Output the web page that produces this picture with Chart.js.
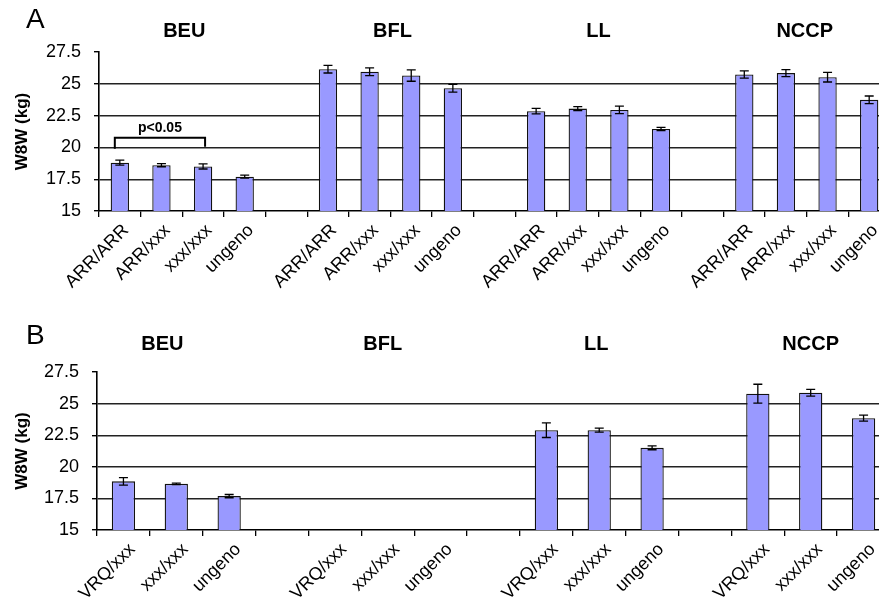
<!DOCTYPE html>
<html><head><meta charset="utf-8">
<script src="https://cdn.jsdelivr.net/npm/chart.js@4.4.0/dist/chart.umd.min.js"></script>
<style>
html,body{margin:0;padding:0;background:#fff;overflow:hidden;width:879px;height:609px;}
#wrapA{position:absolute;left:0;top:0;width:890px;height:305px;}
#wrapB{position:absolute;left:0;top:318px;width:890px;height:291px;}
</style></head><body>
<div id="wrapA"><canvas id="cA"></canvas></div>
<div id="wrapB"><canvas id="cB"></canvas></div>
<script>
// ---- data ----
const groups = ['BEU', 'BFL', 'LL', 'NCCP'];
const genotypesA = ['ARR/ARR', 'ARR/xxx', 'xxx/xxx', 'ungeno'];
const genotypesB = ['VRQ/xxx', 'xxx/xxx', 'ungeno'];

const meanA_BEU  = [18.8, 18.6, 18.5, 17.7];
const errA_BEU   = [0.2, 0.12, 0.2, 0.12];
const meanA_BFL  = [26.15, 25.95, 25.65, 24.65];
const errA_BFL   = [0.3, 0.3, 0.45, 0.3];
const meanA_LL   = [22.85, 23.05, 22.95, 21.45];
const errA_LL    = [0.22, 0.15, 0.3, 0.12];
const meanA_NCCP = [25.73, 25.84, 25.52, 23.74];
const errA_NCCP  = [0.28, 0.28, 0.38, 0.3];

const meanB_BEU  = [18.85, 18.65, 17.68];
const errB_BEU   = [0.3, 0.06, 0.13];
const meanB_BFL  = [null, null, null];
const errB_BFL   = [null, null, null];
const meanB_LL   = [22.9, 22.9, 21.5];
const errB_LL    = [0.58, 0.16, 0.15];
const meanB_NCCP = [25.78, 25.86, 23.85];
const errB_NCCP  = [0.75, 0.27, 0.24];

const yTicks = [15, 17.5, 20, 22.5, 25, 27.5];
const yTitle = 'W8W (kg)';
const bracketText = 'p<0.05';
const bracketFrom = 0, bracketTo = 2, bracketValue = 20.75, bracketLeftEnd = 19.9, bracketRightEnd = 20.05;

// ---- build ----
function build(genos, means, errs) {
  const labels = [], data = [], err = [], groupIdx = [];
  means.forEach((m, g) => {
    const start = labels.length;
    genos.forEach((c, i) => { labels.push(c); data.push(m[i]); err.push(errs[g][i]); });
    groupIdx.push([start, labels.length - 1]);
    if (g < means.length - 1) { labels.push(''); data.push(null); err.push(null); }
  });
  return {labels, data, err, groupIdx};
}
const A = build(genotypesA, [meanA_BEU, meanA_BFL, meanA_LL, meanA_NCCP], [errA_BEU, errA_BFL, errA_LL, errA_NCCP]);
const B = build(genotypesB, [meanB_BEU, meanB_BFL, meanB_LL, meanB_NCCP], [errB_BEU, errB_BFL, errB_LL, errB_NCCP]);

const FONT = '"Liberation Sans", Arial, sans-serif';

function makePlugin(P, letter, letterY, groupY, groupShift, bracket) {
  return {
    id: 'deco' + letter,
    afterDatasetsDraw(chart) {
      const ctx = chart.ctx, xs = chart.scales.x, ys = chart.scales.y;
      ctx.save();
      // error bars
      ctx.strokeStyle = '#000'; ctx.lineWidth = 1.3;
      P.data.forEach((m, i) => {
        if (m == null || P.err[i] == null) return;
        const x = xs.getPixelForValue(i);
        const yt = ys.getPixelForValue(m + P.err[i]);
        const yb = ys.getPixelForValue(m - P.err[i]);
        ctx.beginPath();
        ctx.moveTo(x, yt); ctx.lineTo(x, yb);
        ctx.moveTo(x - 4.5, yt); ctx.lineTo(x + 4.5, yt);
        ctx.moveTo(x - 4.5, yb); ctx.lineTo(x + 4.5, yb);
        ctx.stroke();
      });
      if (bracket) {
        const x1 = xs.getPixelForValue(bracketFrom) - 5;
        const x2 = xs.getPixelForValue(bracketTo) + 2;
        const yy = ys.getPixelForValue(bracketValue);
        ctx.lineWidth = 2;
        ctx.beginPath();
        ctx.moveTo(x1, ys.getPixelForValue(bracketLeftEnd));
        ctx.lineTo(x1, yy); ctx.lineTo(x2, yy);
        ctx.lineTo(x2, ys.getPixelForValue(bracketRightEnd));
        ctx.stroke();
        ctx.fillStyle = '#000';
        ctx.font = 'bold 14px ' + FONT;
        ctx.textAlign = 'center'; ctx.textBaseline = 'middle';
        ctx.fillText(bracketText, (x1 + x2) / 2, yy - 10);
      }
      // group labels
      ctx.fillStyle = '#000';
      ctx.font = 'bold 20px ' + FONT;
      ctx.textAlign = 'center'; ctx.textBaseline = 'middle';
      P.groupIdx.forEach((r, g) => {
        const x = (xs.getPixelForValue(r[0]) + xs.getPixelForValue(r[1])) / 2;
        ctx.fillText(groups[g], x + groupShift[g], groupY);
      });
      // panel letter
      ctx.font = '28px ' + FONT;
      ctx.textAlign = 'left';
      ctx.fillText(letter, 26, letterY);
      ctx.restore();
    }
  };
}

function makeChart(id, P, letter, opts) {
  return new Chart(document.getElementById(id), {
    type: 'bar',
    data: {
      labels: P.labels,
      datasets: [{
        data: P.data,
        backgroundColor: '#9999ff',
        borderColor: '#111',
        borderWidth: 1.3,
        categoryPercentage: 1,
        barPercentage: 0.44
      }]
    },
    options: {
      responsive: true, maintainAspectRatio: false, animation: false,
      layout: {padding: {top: opts.top, right: 0, left: 0, bottom: 0}},
      plugins: {legend: {display: false}, tooltip: {enabled: false}},
      scales: {
        x: {
          grid: {display: true, drawOnChartArea: false, drawTicks: true, tickLength: 6, color: '#000', lineWidth: 1.3, offset: true},
          border: {display: true, color: '#000', width: 1.6},
          ticks: {autoSkip: false, maxRotation: 45, minRotation: 45, color: '#000', padding: 3,
                  labelOffset: opts.labelOffset,
                  font: {family: FONT, size: 18}},
          afterFit(s) { s.height = opts.xh; }
        },
        y: {
          min: yTicks[0], max: yTicks[yTicks.length - 1],
          afterBuildTicks(s) { s.ticks = yTicks.map(v => ({value: v})); },
          grid: {
            color: c => (c.tick && (c.tick.value === yTicks[0] || c.tick.value === yTicks[yTicks.length - 1])) ? 'rgba(0,0,0,0)' : '#222',
            tickColor: '#000', lineWidth: 1.4, tickLength: 5, drawTicks: true
          },
          border: {display: true, color: '#000', width: 1.6},
          ticks: {color: '#000', padding: 13, font: {family: FONT, size: 18}},
          title: {display: true, text: yTitle, color: '#000', padding: {top: 12, bottom: 0},
                  font: {family: FONT, size: 17, weight: 'bold'}},
          afterFit(s) { s.width = opts.yw; }
        }
      }
    },
    plugins: [makePlugin(P, letter, opts.letterY, opts.groupY, opts.groupShift, opts.bracket)]
  });
}

makeChart('cA', A, 'A', {top: 52, xh: 94, yw: 99, letterY: 20, groupY: 31, groupShift: [2, 2, 0, -2], labelOffset: 6, bracket: true});
makeChart('cB', B, 'B', {top: 54, xh: 79, yw: 97, letterY: 18, groupY: 26, groupShift: [-14, -5, -3, 0], labelOffset: 9, bracket: false});
</script>
</body></html>
